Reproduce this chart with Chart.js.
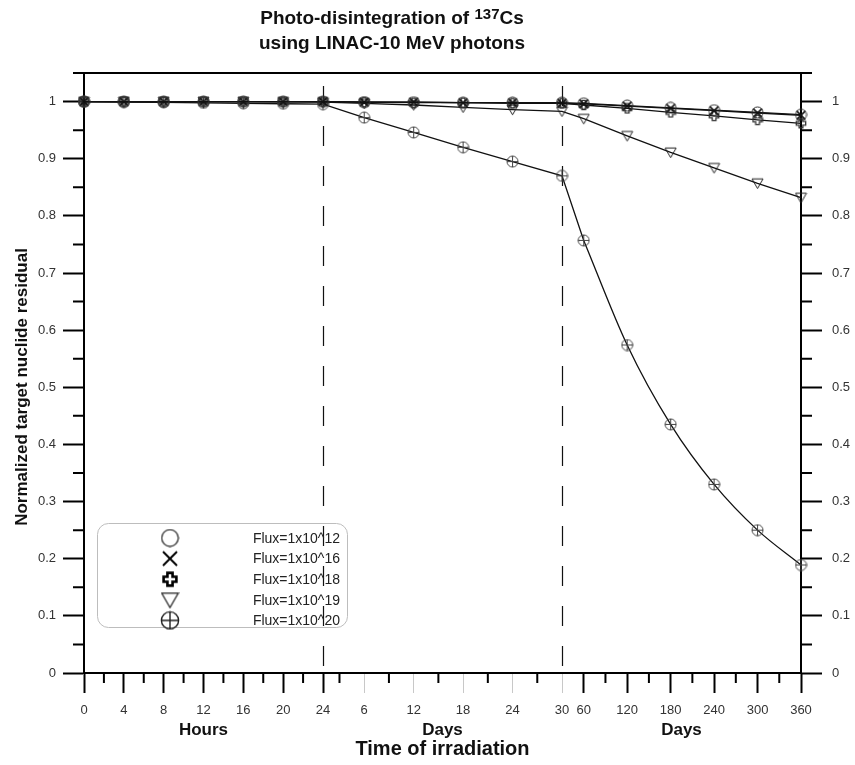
<!DOCTYPE html>
<html>
<head>
<meta charset="utf-8">
<script src="https://cdn.jsdelivr.net/npm/chart.js@4.4.0/dist/chart.umd.min.js"></script>
<style>
  html, body { margin: 0; padding: 0; background: #fff; }
  #wrap { position: relative; width: 855px; height: 765px; }
  #title {
    position: absolute; left: 142px; width: 500px; top: 6px;
    text-align: center; font: bold 19px 'Liberation Sans', Arial, sans-serif;
    line-height: 24px; color: #111;
  }
  #title .sup { font-size: 15px; position: relative; top: -5px; }
  canvas { position: absolute; left: 0; top: 0; }
</style>
</head>
<body>
<div id="wrap">
  <canvas id="chart" width="855" height="765"></canvas>
  <div id="title">Photo-disintegration of <span class="sup">137</span>Cs<br>using LINAC-10 MeV photons</div>
</div>
<script>
/* ===== Photo-disintegration of 137Cs ===== */

// x positions of the points, in each segment's own unit
const HOURS = [0, 4, 8, 12, 16, 20, 24];
const DAYS_SHORT = [6, 12, 18, 24, 30];
const DAYS_LONG = [60, 120, 180, 240, 300, 360];

// minor tick marks
const HOURS_MINOR = [2, 6, 10, 14, 18, 22];
const DAYS_SHORT_MINOR = [3, 9, 15, 21, 27];
const DAYS_LONG_MINOR = [90, 150, 210, 270, 330];

const Y_TICKS = [0, 0.1, 0.2, 0.3, 0.4, 0.5, 0.6, 0.7, 0.8, 0.9, 1];

const LABELS = ['Flux=1x10^12', 'Flux=1x10^16', 'Flux=1x10^18', 'Flux=1x10^19', 'Flux=1x10^20'];

// values: 7 hour points, 5 short-day points, 6 long-day points
const FLUX_12 = [1, 1, 1, 1, 1, 1, 1, 0.999, 0.999, 0.998, 0.998, 0.998, 0.997, 0.993, 0.989, 0.985, 0.981, 0.977];
const FLUX_16 = [1, 1, 1, 1, 1, 1, 1, 0.999, 0.999, 0.998, 0.998, 0.997, 0.996, 0.992, 0.988, 0.984, 0.980, 0.976];
const FLUX_18 = [1, 1, 1, 1, 1, 1, 1, 0.999, 0.998, 0.998, 0.997, 0.997, 0.994, 0.988, 0.981, 0.975, 0.968, 0.962];
const FLUX_19 = [1, 1, 1, 1, 1, 0.9995, 0.999, 0.997, 0.994, 0.990, 0.986, 0.983, 0.970, 0.940, 0.911, 0.884, 0.857, 0.832];
const FLUX_20 = [1, 0.9992, 0.9985, 0.9977, 0.9969, 0.9962, 0.9955, 0.972, 0.946, 0.920, 0.895, 0.870, 0.757, 0.574, 0.435, 0.330, 0.250, 0.189];

const FONT = "'Liberation Sans', Arial, sans-serif";

// each segment takes one unit of the x scale
const hourU = h => h / 24;
const dayShortU = d => 1 + (d - 1) / 29;
const dayLongU = d => 2 + (d - 30) / 330;

const X_POS = [...HOURS.map(hourU), ...DAYS_SHORT.map(dayShortU), ...DAYS_LONG.map(dayLongU)];
const X_TICK_LABELS = [...HOURS, ...DAYS_SHORT, ...DAYS_LONG].map(String);
const X_MINOR = [...HOURS_MINOR.map(hourU), ...DAYS_SHORT_MINOR.map(dayShortU), ...DAYS_LONG_MINOR.map(dayLongU)];

/* ---------- Markers ---------- */

function marker(kind, s, lw, color) {
  const c = document.createElement('canvas');
  c.width = c.height = s;
  const g = c.getContext('2d');
  const m = s / 2, r = s / 2 - lw;
  g.strokeStyle = color;
  g.lineWidth = lw;
  g.lineJoin = 'miter';
  g.beginPath();
  if (kind === 'circle') {
    g.arc(m, m, r, 0, Math.PI * 2);
  } else if (kind === 'x') {
    g.moveTo(m - r, m - r); g.lineTo(m + r, m + r);
    g.moveTo(m + r, m - r); g.lineTo(m - r, m + r);
  } else if (kind === 'plus') {
    const a = r * 0.4;
    g.moveTo(m - a, m - r); g.lineTo(m + a, m - r); g.lineTo(m + a, m - a);
    g.lineTo(m + r, m - a); g.lineTo(m + r, m + a); g.lineTo(m + a, m + a);
    g.lineTo(m + a, m + r); g.lineTo(m - a, m + r); g.lineTo(m - a, m + a);
    g.lineTo(m - r, m + a); g.lineTo(m - r, m - a); g.lineTo(m - a, m - a);
    g.closePath();
  } else if (kind === 'tri') {
    g.moveTo(m - r, m - r * 0.8); g.lineTo(m + r, m - r * 0.8); g.lineTo(m, m + r * 0.95);
    g.closePath();
  } else if (kind === 'oplus') {
    g.arc(m, m, r, 0, Math.PI * 2);
    g.moveTo(m - r, m); g.lineTo(m + r, m);
    g.moveTo(m, m - r); g.lineTo(m, m + r);
  }
  g.stroke();
  return c;
}

const PLOT_MARKERS = [
  marker('circle', 13, 1, '#333'),
  marker('x', 12, 1.6, '#111'),
  marker('plus', 12, 1.3, '#333'),
  marker('tri', 13, 1, '#222'),
  marker('oplus', 13, 1, '#444'),
];
const LEGEND_MARKERS = [
  marker('circle', 19, 1.2, '#222'),
  marker('x', 18, 2, '#000'),
  marker('plus', 18, 2.6, '#000'),
  marker('tri', 19, 1.2, '#222'),
  marker('oplus', 20, 1.4, '#222'),
];

/* ---------- Plugins ---------- */

const dividers = {
  id: 'dividers',
  beforeDatasetsDraw(chart) {
    const { ctx, chartArea: a, scales: { x } } = chart;
    ctx.save();
    ctx.strokeStyle = '#111';
    ctx.lineWidth = 1.2;
    ctx.setLineDash([20, 20]);
    [1, 2].forEach(u => {
      const px = Math.round(x.getPixelForValue(u)) + 0.5;
      ctx.beginPath();
      ctx.moveTo(px, a.top + 13);
      ctx.lineTo(px, a.bottom);
      ctx.stroke();
    });
    ctx.restore();
  },
};

const frame = {
  id: 'frame',
  afterDraw(chart) {
    const { ctx, chartArea: a, scales: { x, y } } = chart;
    ctx.save();
    ctx.strokeStyle = '#000';
    ctx.lineWidth = 2;
    ctx.beginPath();
    ctx.moveTo(a.left - 11, a.top);
    ctx.lineTo(a.right + 11, a.top);
    ctx.stroke();

    // minor ticks
    ctx.beginPath();
    X_MINOR.forEach(u => {
      const px = x.getPixelForValue(u);
      ctx.moveTo(px, a.bottom);
      ctx.lineTo(px, a.bottom + 10);
    });
    for (let v = 0.05; v < 1.06; v += 0.1) {
      const py = y.getPixelForValue(v);
      ctx.moveTo(a.left - 11, py); ctx.lineTo(a.left, py);
      ctx.moveTo(a.right, py); ctx.lineTo(a.right + 11, py);
    }
    ctx.stroke();

    // axis titles
    ctx.fillStyle = '#111';
    ctx.textAlign = 'center';
    ctx.textBaseline = 'middle';
    ctx.font = 'bold 17px ' + FONT;
    ctx.fillText('Hours', x.getPixelForValue(0.5), 730);
    ctx.fillText('Days', x.getPixelForValue(1.5), 730);
    ctx.fillText('Days', x.getPixelForValue(2.5), 730);
    ctx.font = 'bold 20px ' + FONT;
    ctx.fillText('Time of irradiation', (a.left + a.right) / 2, 749);
    ctx.save();
    ctx.translate(22, 387);
    ctx.rotate(-Math.PI / 2);
    ctx.font = 'bold 17px ' + FONT;
    ctx.fillText('Normalized target nuclide residual', 0, 0);
    ctx.restore();

    // legend box
    ctx.lineWidth = 1;
    ctx.strokeStyle = '#bdbdbd';
    ctx.beginPath();
    ctx.roundRect(97.5, 523.5, 250, 104, 11);
    ctx.stroke();
    ctx.font = '14px ' + FONT;
    ctx.textAlign = 'right';
    ctx.fillStyle = '#222';
    LABELS.forEach((label, i) => {
      const ry = 538 + i * 20.6;
      const img = LEGEND_MARKERS[i];
      ctx.drawImage(img, 170 - img.width / 2, ry - img.height / 2);
      ctx.fillText(label, 340, ry + 1);
    });
    ctx.restore();
  },
};

/* ---------- Chart ---------- */

const SERIES = [FLUX_12, FLUX_16, FLUX_18, FLUX_19, FLUX_20];
const toPoints = (vals, from) => vals.map((v, j) => ({ x: X_POS[from + j], y: v }));
const LONG_START = HOURS.length + DAYS_SHORT.length; // index of day 60

const lineStyle = i => ({
  borderColor: '#111',
  borderWidth: 1.3,
  pointStyle: PLOT_MARKERS[i],
  pointRadius: 6,
  clip: false,
  order: i,
});

const datasets = SERIES.slice(0, 4).map((vals, i) => ({
  label: LABELS[i],
  data: toPoints(vals, 0),
  ...lineStyle(i),
}));

// Flux 1e20: straight up to day 60, smooth curve after it
datasets.push({
  label: LABELS[4],
  data: toPoints(FLUX_20.slice(0, LONG_START + 1), 0),
  ...lineStyle(4),
});
datasets.push({
  label: LABELS[4] + ' (curve)',
  data: toPoints(FLUX_20.slice(LONG_START), LONG_START),
  ...lineStyle(4),
  pointRadius: c => c.dataIndex === 0 ? 0 : 6,
  cubicInterpolationMode: 'monotone',
});

const isGreyTick = c => c.index >= HOURS.length && c.index < HOURS.length + DAYS_SHORT.length;

const yScale = (position, width) => ({
  type: 'linear',
  position,
  min: 0,
  max: 1.05,
  afterFit(s) { s.width = width; },
  afterBuildTicks(s) { s.ticks = Y_TICKS.map(v => ({ value: v })); },
  border: { display: true, color: '#000', width: 2 },
  grid: { drawOnChartArea: false, drawTicks: true, tickLength: 21, tickColor: '#000', tickWidth: 2 },
  ticks: {
    padding: position === 'left' ? 7 : 10,
    color: '#333',
    font: { family: FONT, size: 13 },
    callback: v => String(Math.round(v * 10) / 10),
  },
});

new Chart(document.getElementById('chart'), {
  type: 'line',
  data: { datasets },
  options: {
    responsive: false,
    animation: false,
    layout: { padding: { top: 73, left: 0, right: 0, bottom: 0 } },
    scales: {
      x: {
        type: 'linear',
        min: 0,
        max: 3,
        afterFit(s) { s.height = 92; },
        afterBuildTicks(s) { s.ticks = X_POS.map(v => ({ value: v })); },
        border: { display: true, color: '#000', width: 2 },
        grid: {
          drawOnChartArea: false,
          drawTicks: true,
          tickLength: 20,
          tickColor: c => isGreyTick(c) ? '#c8c8c8' : '#000',
          tickWidth: c => isGreyTick(c) ? 1 : 2,
        },
        ticks: {
          autoSkip: false,
          maxRotation: 0,
          padding: 10,
          color: '#333',
          font: { family: FONT, size: 13 },
          callback: (v, i) => X_TICK_LABELS[i],
        },
      },
      y: yScale('left', 84),
      y2: yScale('right', 54),
    },
    plugins: {
      legend: { display: false },
      tooltip: { enabled: false },
    },
  },
  plugins: [dividers, frame],
});
</script>
</body>
</html>
